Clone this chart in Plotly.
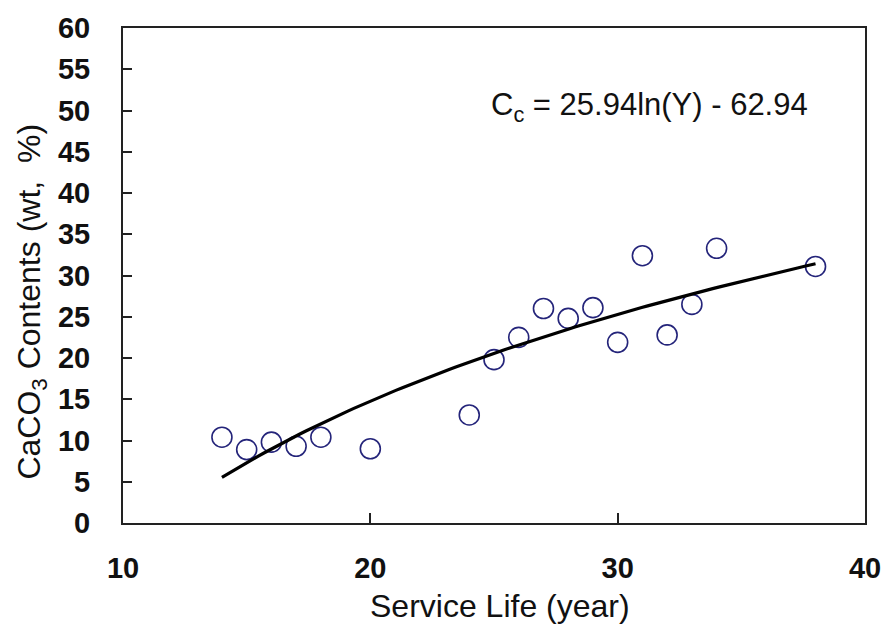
import numpy as np
import plotly.graph_objects as go

# Data
service_life = [14, 15, 16, 17, 18, 20, 24, 25, 26, 27, 28, 29, 30, 31, 32, 33, 34, 38]
caco3 = [10.4, 8.9, 9.8, 9.3, 10.4, 9.0, 13.1, 19.8, 22.5, 26.0, 24.8, 26.1, 21.9, 32.4, 22.8, 26.5, 33.3, 31.1]

# Fitted curve coefficients shown on the chart: Cc = a*ln(Y) + b
fit_a = 25.94
fit_b = -62.94
fit_x = np.linspace(14, 38, 100)
fit_y = fit_a * np.log(fit_x) + fit_b

x_ticks = [10, 20, 30, 40]
y_ticks = list(range(0, 61, 5))

FONT = "Liberation Sans, Arial, sans-serif"

# plot-area pixel frame used to place annotations
L, R, T, B = 123, 867, 25, 523
W, H = R - L, B - T


def px(x):
    return (x - L) / W


def py(y):
    return (B - y) / H


fig = go.Figure()
fig.add_trace(go.Scatter(
    x=service_life, y=caco3, mode="markers",
    marker=dict(symbol="circle-open", size=20, color="#24247a", line=dict(width=1.6, color="#24247a")),
    showlegend=False, cliponaxis=False,
))
fig.add_trace(go.Scatter(
    x=fit_x, y=fit_y, mode="lines",
    line=dict(color="black", width=3.2),
    showlegend=False,
))

fig.update_layout(
    width=893, height=634,
    margin=dict(l=L, r=893 - R, t=T, b=634 - B),
    paper_bgcolor="white", plot_bgcolor="white",
    font=dict(family=FONT, color="#111111"),
    xaxis=dict(
        range=[10, 40], tickvals=x_ticks, ticks="inside", ticklen=10, tickwidth=1.5,
        tickcolor="#222", showline=True, linecolor="#222", linewidth=2, mirror=True,
        showgrid=False, zeroline=False,
        tickfont=dict(size=29, family=FONT, weight="bold", color="#111"),
        ticklabelstandoff=18,
    ),
    yaxis=dict(
        range=[0, 60], tickvals=y_ticks, ticks="inside", ticklen=9, tickwidth=1.5,
        tickcolor="#222", showline=True, linecolor="#222", linewidth=2, mirror=True,
        showgrid=False, zeroline=False,
        tickfont=dict(size=29, family=FONT, weight="bold", color="#111"),
        ticklabelstandoff=25,
    ),
    annotations=[
        dict(text="C<sub>c</sub> = 25.94ln(Y) - 62.94", xref="paper", yref="paper",
             x=px(490), y=py(104), xanchor="left", yanchor="middle",
             showarrow=False, font=dict(size=31, family=FONT, color="#111")),
        dict(text="Service Life (year)", xref="paper", yref="paper",
             x=px(501), y=py(607), xanchor="center", yanchor="middle",
             showarrow=False, font=dict(size=32, family=FONT, color="#111")),
        dict(text="CaCO<sub>3</sub> Contents (wt,  %)", xref="paper", yref="paper",
             x=px(31), y=py(300), xanchor="center", yanchor="middle",
             textangle=-90, showarrow=False, font=dict(size=32, family=FONT, color="#111")),
    ],
)

fig.write_html("out.html")
